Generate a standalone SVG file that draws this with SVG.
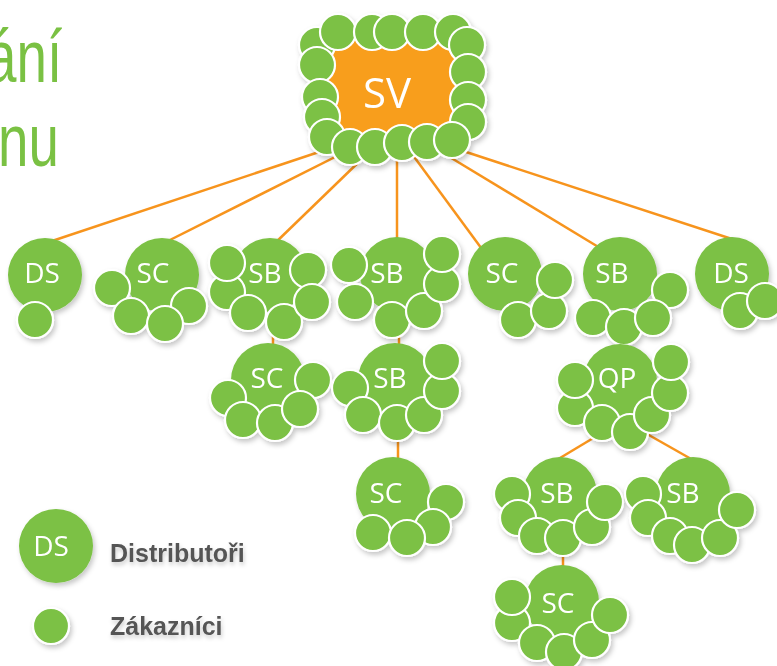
<svg xmlns="http://www.w3.org/2000/svg" width="777" height="666" viewBox="0 0 777 666">
<defs>
<filter id="sh" x="-20%" y="-20%" width="150%" height="150%">
<feDropShadow dx="2" dy="3" stdDeviation="2.5" flood-color="#000" flood-opacity="0.22"/>
</filter>
<filter id="tsh" x="-10%" y="-30%" width="130%" height="180%">
<feDropShadow dx="1" dy="3" stdDeviation="2" flood-color="#000" flood-opacity="0.2"/>
</filter>
</defs>
<style>
.big{fill:#7BC144}
.sm{fill:#7BC144;stroke:#fff;stroke-width:2.2}
.lbl{font-family:"Open Sans","Noto Sans","Liberation Sans",sans-serif;font-size:28px;fill:#fff;text-anchor:middle}
.conn{stroke:#F7941D;stroke-width:2.5;fill:none}
.title{font-family:"Liberation Sans",sans-serif;font-size:74px;fill:#7AC143}
.leg{font-family:"Liberation Sans",Arial,sans-serif;font-weight:bold;font-size:25px;fill:#555}
</style>

<g id="title">
<text class="title" transform="translate(-14,82) scale(0.74,1)">ání</text>
<text class="title" transform="translate(-2,166) scale(0.74,1)">nu</text>
</g>

<g id="connectors">
<line class="conn" x1="340" y1="145" x2="40" y2="245"/>
<line class="conn" x1="345" y1="152" x2="160" y2="245"/>
<line class="conn" x1="365" y1="156" x2="272" y2="246"/>
<line class="conn" x1="397" y1="150" x2="397" y2="260"/>
<line class="conn" x1="412" y1="154" x2="490" y2="260"/>
<line class="conn" x1="448" y1="156" x2="605" y2="251"/>
<line class="conn" x1="460" y1="150" x2="735" y2="240"/>
<line class="conn" x1="273" y1="300" x2="273" y2="360"/>
<line class="conn" x1="399" y1="300" x2="399" y2="360"/>
<line class="conn" x1="398" y1="420" x2="398" y2="470"/>
<line class="conn" x1="621" y1="300" x2="621" y2="360"/>
<line class="conn" x1="605" y1="431" x2="550" y2="464"/>
<line class="conn" x1="640" y1="430" x2="700" y2="464"/>
<line class="conn" x1="563" y1="520" x2="563" y2="580"/>
</g>

<g id="SV" filter="url(#sh)">
<rect x="326" y="38" width="136" height="102" rx="8" fill="#F89E1B"/>
<circle class="sm" cx="317" cy="45" r="18"/>
<circle class="sm" cx="338" cy="32" r="18"/>
<circle class="sm" cx="372" cy="32" r="18"/>
<circle class="sm" cx="392" cy="32" r="18"/>
<circle class="sm" cx="423" cy="32" r="18"/>
<circle class="sm" cx="453" cy="32" r="18"/>
<circle class="sm" cx="467" cy="45" r="18"/>
<circle class="sm" cx="468" cy="72" r="18"/>
<circle class="sm" cx="468" cy="100" r="18"/>
<circle class="sm" cx="468" cy="122" r="18"/>
<circle class="sm" cx="317" cy="65" r="18"/>
<circle class="sm" cx="320" cy="97" r="18"/>
<circle class="sm" cx="322" cy="117" r="18"/>
<circle class="sm" cx="327" cy="137" r="18"/>
<circle class="sm" cx="350" cy="147" r="18"/>
<circle class="sm" cx="375" cy="147" r="18"/>
<circle class="sm" cx="402" cy="143" r="18"/>
<circle class="sm" cx="427" cy="142" r="18"/>
<circle class="sm" cx="452" cy="140" r="18"/>
<text class="lbl" x="387" y="108" style="font-size:42px">SV</text>
</g>

<g id="DS1" filter="url(#sh)">
<circle class="big" cx="45" cy="275" r="37"/>
<circle class="sm" cx="35" cy="320" r="18"/>
<text class="lbl" x="42" y="283">DS</text>
</g>

<g id="SC1" filter="url(#sh)">
<circle class="big" cx="162" cy="275" r="37"/>
<circle class="sm" cx="189" cy="306" r="18"/>
<circle class="sm" cx="112" cy="288" r="18"/>
<circle class="sm" cx="131" cy="316" r="18"/>
<circle class="sm" cx="165" cy="324" r="18"/>
<text class="lbl" x="153" y="283">SC</text>
</g>

<g id="SB1" filter="url(#sh)">
<circle class="big" cx="270" cy="275" r="37"/>
<circle class="sm" cx="227" cy="292" r="18"/>
<circle class="sm" cx="227" cy="263" r="18"/>
<circle class="sm" cx="248" cy="313" r="18"/>
<circle class="sm" cx="284" cy="322" r="18"/>
<circle class="sm" cx="308" cy="270" r="18"/>
<circle class="sm" cx="312" cy="302" r="18"/>
<text class="lbl" x="265" y="283">SB</text>
</g>

<g id="SB2" filter="url(#sh)">
<circle class="big" cx="397" cy="274" r="37"/>
<circle class="sm" cx="349" cy="265" r="18"/>
<circle class="sm" cx="355" cy="302" r="18"/>
<circle class="sm" cx="392" cy="320" r="18"/>
<circle class="sm" cx="424" cy="311" r="18"/>
<circle class="sm" cx="442" cy="284" r="18"/>
<circle class="sm" cx="442" cy="254" r="18"/>
<text class="lbl" x="387" y="283">SB</text>
</g>

<g id="SC2" filter="url(#sh)">
<circle class="big" cx="505" cy="274" r="37"/>
<circle class="sm" cx="518" cy="320" r="18"/>
<circle class="sm" cx="549" cy="311" r="18"/>
<circle class="sm" cx="555" cy="280" r="18"/>
<text class="lbl" x="502" y="283">SC</text>
</g>

<g id="SB3" filter="url(#sh)">
<circle class="big" cx="620" cy="274" r="37"/>
<circle class="sm" cx="670" cy="290" r="18"/>
<circle class="sm" cx="593" cy="318" r="18"/>
<circle class="sm" cx="624" cy="327" r="18"/>
<circle class="sm" cx="653" cy="318" r="18"/>
<text class="lbl" x="612" y="283">SB</text>
</g>

<g id="DS2" filter="url(#sh)">
<circle class="big" cx="732" cy="274" r="37"/>
<circle class="sm" cx="740" cy="311" r="18"/>
<circle class="sm" cx="765" cy="301" r="18"/>
<text class="lbl" x="731" y="283">DS</text>
</g>

<g id="SC3" filter="url(#sh)">
<circle class="big" cx="268" cy="380" r="37"/>
<circle class="sm" cx="313" cy="380" r="18"/>
<circle class="sm" cx="228" cy="398" r="18"/>
<circle class="sm" cx="243" cy="420" r="18"/>
<circle class="sm" cx="275" cy="423" r="18"/>
<circle class="sm" cx="300" cy="409" r="18"/>
<text class="lbl" x="267" y="388">SC</text>
</g>

<g id="SB4" filter="url(#sh)">
<circle class="big" cx="395" cy="380" r="37"/>
<circle class="sm" cx="350" cy="388" r="18"/>
<circle class="sm" cx="363" cy="415" r="18"/>
<circle class="sm" cx="397" cy="423" r="18"/>
<circle class="sm" cx="424" cy="415" r="18"/>
<circle class="sm" cx="442" cy="391" r="18"/>
<circle class="sm" cx="442" cy="361" r="18"/>
<text class="lbl" x="390" y="388">SB</text>
</g>

<g id="SC4" filter="url(#sh)">
<circle class="big" cx="393" cy="494" r="37"/>
<circle class="sm" cx="446" cy="502" r="18"/>
<circle class="sm" cx="373" cy="533" r="18"/>
<circle class="sm" cx="433" cy="527" r="18"/>
<circle class="sm" cx="407" cy="538" r="18"/>
<text class="lbl" x="386" y="503">SC</text>
</g>

<g id="QP" filter="url(#sh)">
<circle class="big" cx="620" cy="381" r="37"/>
<circle class="sm" cx="575" cy="408" r="18"/>
<circle class="sm" cx="575" cy="380" r="18"/>
<circle class="sm" cx="602" cy="423" r="18"/>
<circle class="sm" cx="630" cy="432" r="18"/>
<circle class="sm" cx="652" cy="415" r="18"/>
<circle class="sm" cx="670" cy="393" r="18"/>
<circle class="sm" cx="671" cy="362" r="18"/>
<text class="lbl" x="617" y="388">QP</text>
</g>

<g id="SB5" filter="url(#sh)">
<circle class="big" cx="560" cy="494" r="37"/>
<circle class="sm" cx="512" cy="494" r="18"/>
<circle class="sm" cx="518" cy="518" r="18"/>
<circle class="sm" cx="537" cy="536" r="18"/>
<circle class="sm" cx="563" cy="538" r="18"/>
<circle class="sm" cx="592" cy="527" r="18"/>
<circle class="sm" cx="605" cy="502" r="18"/>
<text class="lbl" x="557" y="503">SB</text>
</g>

<g id="SB6" filter="url(#sh)">
<circle class="big" cx="693" cy="494" r="37"/>
<circle class="sm" cx="643" cy="494" r="18"/>
<circle class="sm" cx="648" cy="518" r="18"/>
<circle class="sm" cx="670" cy="536" r="18"/>
<circle class="sm" cx="692" cy="545" r="18"/>
<circle class="sm" cx="720" cy="538" r="18"/>
<circle class="sm" cx="737" cy="510" r="18"/>
<text class="lbl" x="683" y="503">SB</text>
</g>

<g id="SC5" filter="url(#sh)">
<circle class="big" cx="562" cy="602" r="37"/>
<circle class="sm" cx="512" cy="623" r="18"/>
<circle class="sm" cx="512" cy="597" r="18"/>
<circle class="sm" cx="537" cy="643" r="18"/>
<circle class="sm" cx="564" cy="652" r="18"/>
<circle class="sm" cx="592" cy="640" r="18"/>
<circle class="sm" cx="610" cy="615" r="18"/>
<text class="lbl" x="558" y="613">SC</text>
</g>

<g id="legend">
<g filter="url(#sh)">
<circle class="big" cx="56" cy="546" r="37"/>
<text class="lbl" x="51" y="556">DS</text>
<circle class="sm" cx="51" cy="626" r="18"/>
</g>
<g filter="url(#tsh)">
<text class="leg" x="110" y="562">Distributoři</text>
<text class="leg" x="110" y="635">Zákazníci</text>
</g>
</g>
</svg>
